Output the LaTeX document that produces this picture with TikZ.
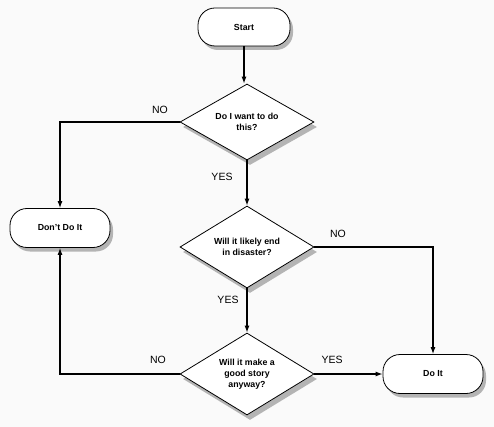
\documentclass[tikz,border=0pt]{standalone}
\usepackage{fontspec}
\setmainfont{Liberation Sans}
\usetikzlibrary{shapes.geometric,shadows,arrows.meta,positioning}
\begin{document}
\begin{tikzpicture}[x=1pt,y=-1pt,
  term/.style={draw=black,line width=0.8pt,rounded corners=17pt,fill=white,minimum width=100pt,minimum height=39pt,font=\fontsize{8.8}{10}\selectfont\bfseries,drop shadow={shadow xshift=3pt,shadow yshift=-4pt,opacity=0.4,fill=black!70}},
  decision/.style={draw=black,line width=0.8pt,diamond,aspect=1.7,fill=white,inner sep=0pt,minimum width=134pt,minimum height=76pt,align=center,font=\fontsize{8.8}{11}\selectfont\bfseries,drop shadow={shadow xshift=3pt,shadow yshift=-5pt,opacity=0.4,fill=black!70}},
  conn/.style={line width=1.1pt,-{Latex[length=7pt,width=5pt]}},
  lbl/.style={font=\fontsize{10.5}{12}\selectfont}
]
\useasboundingbox[fill=black!2] (0,0) rectangle (494,427);
\node[term,minimum width=92pt,minimum height=38pt] (start) at (244,27) {Start};
\node[decision] (d1) at (247,122) {Do I want to do\\this?};
\node[term] (dont) at (60,228) {Don't Do It};
\node[decision,minimum height=82pt] (d2) at (247,247) {Will it likely end\\in disaster?};
\node[decision,minimum height=82pt] (d3) at (247,374) {Will it make a\\good story\\anyway?};
\node[term] (doit) at (433,374) {Do It};

\draw[conn] (start.south) -- (start.south |- d1.north);
\draw[conn] (d1.west) -| (dont.north);
\draw[conn] (d1.south) -- (d2.north);
\draw[conn] (d2.east) -| (doit.north);
\draw[conn] (d2.south) -- (d3.north);
\draw[conn] (d3.west) -| (dont.south);
\draw[conn] (d3.east) -- (doit.west);

\node[lbl] (l1) at (160,110) {NO};
\node[lbl] (l2) at (222,177) {YES};
\node[lbl] (l3) at (338,234) {NO};
\node[lbl] (l4) at (228,300) {YES};
\node[lbl] (l5) at (158,360) {NO};
\node[lbl] (l6) at (332,360) {YES};
\end{tikzpicture}
\end{document}
